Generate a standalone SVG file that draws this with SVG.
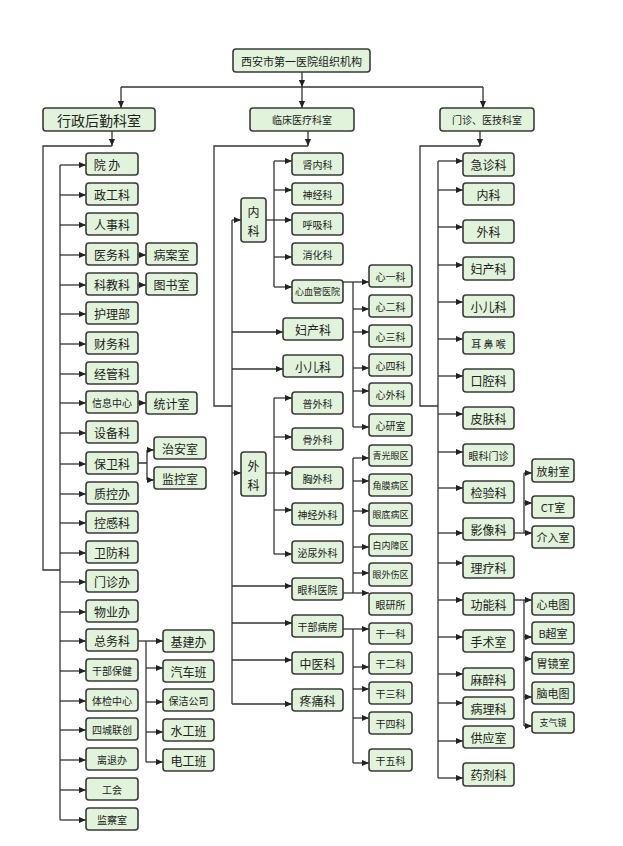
<svg xmlns="http://www.w3.org/2000/svg" width="623" height="846" viewBox="0 0 623 846">
<style>
.n rect{fill:#e1f3da;stroke:#3a3a3a;stroke-width:1.6}
.n text{font-family:"Noto Sans CJK SC","Liberation Sans",sans-serif;font-size:12px;fill:#222;text-anchor:middle;dominant-baseline:central}
.s text{font-size:10px}
.x text{font-size:9px}
#conn path{fill:none;stroke:#333;stroke-width:1.3}
#conn path.a{marker-end:url(#ar)}
</style>
<defs>
<marker id="ar" viewBox="0 0 8 8" refX="8" refY="4" markerWidth="7" markerHeight="7" markerUnits="userSpaceOnUse" orient="auto"><path d="M0,0.5 L8,4 L0,7.5z" fill="#222"/></marker>
</defs>
<rect width="623" height="846" fill="#fff"/>
<g id="conn">
<path class="a" d="M302,72V87"/><path d="M121,87H483"/>
<path class="a" d="M121,87V108"/><path class="a" d="M302,87V108"/><path class="a" d="M483,87V108"/>
<path class="a" d="M112,131V146"/><path class="a" d="M308,131V146"/><path class="a" d="M480,131V146"/>
<path d="M112,146H43V570H60"/><path d="M308,146H214V406H232"/><path d="M480,146H420V406H438"/>
<path d="M60,165V820"/>
<path class="a" d="M60,165H86"/><path class="a" d="M60,195H86"/><path class="a" d="M60,225H86"/><path class="a" d="M60,255H86"/><path class="a" d="M60,285H86"/><path class="a" d="M60,314H86"/><path class="a" d="M60,344H86"/><path class="a" d="M60,374H86"/><path class="a" d="M60,403H86"/><path class="a" d="M60,433H86"/><path class="a" d="M60,464H86"/><path class="a" d="M60,494H86"/><path class="a" d="M60,523H86"/><path class="a" d="M60,553H86"/><path class="a" d="M60,582H86"/><path class="a" d="M60,612H86"/><path class="a" d="M60,641H86"/><path class="a" d="M60,671H86"/><path class="a" d="M60,701H86"/><path class="a" d="M60,730H86"/><path class="a" d="M60,760H86"/><path class="a" d="M60,790H86"/><path class="a" d="M60,820H86"/>
<path class="a" d="M138,255H146"/><path class="a" d="M138,285H146"/><path class="a" d="M138,403H146"/>
<path d="M138,463H147M147,450V480"/><path class="a" d="M147,450H154"/><path class="a" d="M147,480H154"/>
<path class="a" d="M138,641H163"/><path d="M146,641V762"/><path class="a" d="M146,668H163"/><path class="a" d="M146,702H163"/><path class="a" d="M146,732H163"/><path class="a" d="M146,762H163"/>
<path d="M232,220V704"/>
<path class="a" d="M232,220H241"/><path class="a" d="M232,332H283"/><path class="a" d="M232,369H283"/><path class="a" d="M232,473H241"/><path class="a" d="M232,586H292"/><path class="a" d="M232,623H292"/><path class="a" d="M232,660H292"/><path class="a" d="M232,704H292"/>
<path class="a" d="M266,220H292"/><path d="M274,161V287"/><path class="a" d="M274,161H292"/><path class="a" d="M274,190H292"/><path class="a" d="M274,257H292"/><path class="a" d="M274,287H292"/>
<path class="a" d="M343,282H369"/><path d="M353,282V427"/><path class="a" d="M353,309H369"/><path class="a" d="M353,332H369"/><path class="a" d="M353,368H369"/><path class="a" d="M353,391H369"/><path class="a" d="M353,427H369"/>
<path class="a" d="M266,473H292"/><path d="M274,398V554"/><path class="a" d="M274,398H292"/><path class="a" d="M274,437H292"/><path class="a" d="M274,510H292"/><path class="a" d="M274,554H292"/>
<path class="a" d="M343,593H369"/><path d="M353,458V593"/><path class="a" d="M353,458H369"/><path class="a" d="M353,481H369"/><path class="a" d="M353,511H369"/><path class="a" d="M353,547H369"/><path class="a" d="M353,573H369"/>
<path class="a" d="M343,629H369"/><path d="M353,629V763"/><path class="a" d="M353,667H369"/><path class="a" d="M353,689H369"/><path class="a" d="M353,718H369"/><path class="a" d="M353,763H369"/>
<path d="M438,161V778"/>
<path class="a" d="M438,161H463"/><path class="a" d="M438,190H463"/><path class="a" d="M438,227H463"/><path class="a" d="M438,265H463"/><path class="a" d="M438,302H463"/><path class="a" d="M438,339H463"/><path class="a" d="M438,376H463"/><path class="a" d="M438,414H463"/><path class="a" d="M438,452H463"/><path class="a" d="M438,488H463"/><path class="a" d="M438,533H463"/><path class="a" d="M438,563H463"/><path class="a" d="M438,600H463"/><path class="a" d="M438,637H463"/><path class="a" d="M438,674H463"/><path class="a" d="M438,703H463"/><path class="a" d="M438,741H463"/><path class="a" d="M438,778H463"/>
<path class="a" d="M514,533H532"/><path d="M524,473V533"/><path class="a" d="M524,473H532"/><path class="a" d="M524,503H532"/>
<path class="a" d="M514,600H532"/><path d="M524,600V726"/><path class="a" d="M524,637H532"/><path class="a" d="M524,659H532"/><path class="a" d="M524,697H532"/><path class="a" d="M524,726H532"/>
</g>
<g id="root" class="n"><rect x="233" y="49" width="137" height="23" rx="3"/><text x="301.5" y="60.5" style="font-size:11px">西安市第一医院组织机构</text></g>
<g id="xz" class="n"><rect x="43" y="108" width="112" height="23" rx="3"/><text x="99" y="119.5" style="font-size:14px">行政后勤科室</text></g>
<g id="lc" class="n"><rect x="250" y="108" width="104" height="23" rx="3"/><text x="302" y="119.5" style="font-size:10px">临床医疗科室</text></g>
<g id="mz" class="n"><rect x="440" y="108" width="94" height="23" rx="3"/><text x="487" y="119.5" style="font-size:10px">门诊、医技科室</text></g>

<g id="l1" class="n"><rect x="86" y="153" width="52" height="22" rx="3"/><text x="107" y="164">院 办</text></g>
<g id="l2" class="n"><rect x="86" y="183" width="52" height="22" rx="3"/><text x="112" y="194">政工科</text></g>
<g id="l3" class="n"><rect x="86" y="213" width="52" height="22" rx="3"/><text x="112" y="224">人事科</text></g>
<g id="l4" class="n"><rect x="86" y="243" width="52" height="22" rx="3"/><text x="112" y="254">医务科</text></g>
<g id="l5" class="n"><rect x="86" y="273" width="52" height="22" rx="3"/><text x="112" y="284">科教科</text></g>
<g id="l6" class="n"><rect x="86" y="302" width="52" height="22" rx="3"/><text x="112" y="313">护理部</text></g>
<g id="l7" class="n"><rect x="86" y="332" width="52" height="22" rx="3"/><text x="112" y="343">财务科</text></g>
<g id="l8" class="n"><rect x="86" y="362" width="52" height="22" rx="3"/><text x="112" y="373">经管科</text></g>
<g id="l9" class="n s"><rect x="86" y="391" width="52" height="22" rx="3"/><text x="112" y="402">信息中心</text></g>
<g id="l10" class="n"><rect x="86" y="421" width="52" height="22" rx="3"/><text x="112" y="432">设备科</text></g>
<g id="l11" class="n"><rect x="86" y="452" width="52" height="22" rx="3"/><text x="112" y="463">保卫科</text></g>
<g id="l12" class="n"><rect x="86" y="482" width="52" height="22" rx="3"/><text x="112" y="493">质控办</text></g>
<g id="l13" class="n"><rect x="86" y="511" width="52" height="22" rx="3"/><text x="112" y="522">控感科</text></g>
<g id="l14" class="n"><rect x="86" y="541" width="52" height="22" rx="3"/><text x="112" y="552">卫防科</text></g>
<g id="l15" class="n"><rect x="86" y="570" width="52" height="22" rx="3"/><text x="112" y="581">门诊办</text></g>
<g id="l16" class="n"><rect x="86" y="600" width="52" height="22" rx="3"/><text x="112" y="611">物业办</text></g>
<g id="l17" class="n"><rect x="86" y="629" width="52" height="22" rx="3"/><text x="112" y="640">总务科</text></g>
<g id="l18" class="n s"><rect x="86" y="659" width="52" height="22" rx="3"/><text x="112" y="670">干部保健</text></g>
<g id="l19" class="n s"><rect x="86" y="689" width="52" height="22" rx="3"/><text x="112" y="700">体检中心</text></g>
<g id="l20" class="n s"><rect x="86" y="718" width="52" height="22" rx="3"/><text x="112" y="729">四城联创</text></g>
<g id="l21" class="n s"><rect x="86" y="748" width="52" height="22" rx="3"/><text x="112" y="759">离退办</text></g>
<g id="l22" class="n s"><rect x="86" y="778" width="52" height="22" rx="3"/><text x="112" y="789">工会</text></g>
<g id="l23" class="n s"><rect x="86" y="808" width="52" height="22" rx="3"/><text x="112" y="819">监察室</text></g>
<g id="l4a" class="n"><rect x="146" y="243" width="51" height="22" rx="3"/><text x="171.5" y="254">病案室</text></g>
<g id="l5a" class="n"><rect x="146" y="273" width="51" height="22" rx="3"/><text x="171.5" y="284">图书室</text></g>
<g id="l9a" class="n"><rect x="146" y="392" width="51" height="22" rx="3"/><text x="171.5" y="403">统计室</text></g>
<g id="l11a" class="n"><rect x="154" y="437" width="52" height="22" rx="3"/><text x="180" y="448">治安室</text></g>
<g id="l11b" class="n"><rect x="154" y="467" width="52" height="22" rx="3"/><text x="180" y="478">监控室</text></g>
<g id="l17a" class="n"><rect x="163" y="630" width="51" height="22" rx="3"/><text x="188.5" y="641">基建办</text></g>
<g id="l17b" class="n"><rect x="163" y="660" width="51" height="22" rx="3"/><text x="188.5" y="671">汽车班</text></g>
<g id="l17c" class="n s"><rect x="163" y="689" width="51" height="22" rx="3"/><text x="188.5" y="700">保洁公司</text></g>
<g id="l17d" class="n"><rect x="163" y="719" width="51" height="22" rx="3"/><text x="188.5" y="730">水工班</text></g>
<g id="l17e" class="n"><rect x="163" y="749" width="51" height="22" rx="3"/><text x="188.5" y="760">电工班</text></g>

<g id="m1" class="n"><rect x="241" y="198" width="25" height="44" rx="3"/><text x="253.5" y="211">内</text><text x="253.5" y="230">科</text></g>
<g id="m1a" class="n s"><rect x="292" y="153" width="51" height="22" rx="3"/><text x="317.5" y="164">肾内科</text></g>
<g id="m1b" class="n s"><rect x="292" y="183" width="51" height="22" rx="3"/><text x="317.5" y="194">神经科</text></g>
<g id="m1c" class="n s"><rect x="292" y="213" width="51" height="22" rx="3"/><text x="317.5" y="224">呼吸科</text></g>
<g id="m1d" class="n s"><rect x="292" y="243" width="51" height="22" rx="3"/><text x="317.5" y="254">消化科</text></g>
<g id="m1e" class="n x"><rect x="292" y="280" width="51" height="23" rx="3"/><text x="317.5" y="291.5">心血管医院</text></g>
<g id="m2" class="n"><rect x="283" y="318" width="60" height="22" rx="3"/><text x="313" y="329">妇产科</text></g>
<g id="m3" class="n"><rect x="283" y="355" width="60" height="22" rx="3"/><text x="313" y="366">小儿科</text></g>
<g id="m4" class="n"><rect x="241" y="452" width="25" height="44" rx="3"/><text x="253.5" y="465">外</text><text x="253.5" y="484">科</text></g>
<g id="m4a" class="n s"><rect x="292" y="392" width="51" height="22" rx="3"/><text x="317.5" y="403">普外科</text></g>
<g id="m4b" class="n s"><rect x="292" y="428" width="51" height="22" rx="3"/><text x="317.5" y="439">骨外科</text></g>
<g id="m4c" class="n s"><rect x="292" y="467" width="51" height="22" rx="3"/><text x="317.5" y="478">胸外科</text></g>
<g id="m4d" class="n s"><rect x="292" y="503" width="51" height="22" rx="3"/><text x="317.5" y="514">神经外科</text></g>
<g id="m4e" class="n s"><rect x="292" y="541" width="51" height="22" rx="3"/><text x="317.5" y="552">泌尿外科</text></g>
<g id="m5" class="n s"><rect x="292" y="578" width="51" height="22" rx="3"/><text x="317.5" y="589">眼科医院</text></g>
<g id="m6" class="n s"><rect x="292" y="615" width="51" height="22" rx="3"/><text x="317.5" y="626">干部病房</text></g>
<g id="m7" class="n"><rect x="292" y="652" width="51" height="22" rx="3"/><text x="317.5" y="663">中医科</text></g>
<g id="m8" class="n"><rect x="292" y="689" width="51" height="22" rx="3"/><text x="317.5" y="700">疼痛科</text></g>
<g id="x1" class="n s"><rect x="369" y="265" width="43" height="22" rx="3"/><text x="390.5" y="276">心一科</text></g>
<g id="x2" class="n s"><rect x="369" y="295" width="43" height="22" rx="3"/><text x="390.5" y="306">心二科</text></g>
<g id="x3" class="n s"><rect x="369" y="325" width="43" height="22" rx="3"/><text x="390.5" y="336">心三科</text></g>
<g id="x4" class="n s"><rect x="369" y="354" width="43" height="22" rx="3"/><text x="390.5" y="365">心四科</text></g>
<g id="x5" class="n s"><rect x="369" y="383" width="43" height="23" rx="3"/><text x="390.5" y="394.5">心外科</text></g>
<g id="x6" class="n s"><rect x="369" y="414" width="43" height="22" rx="3"/><text x="390.5" y="425">心研室</text></g>
<g id="y1" class="n x"><rect x="369" y="445" width="43" height="21" rx="3"/><text x="390.5" y="455.5">青光眼区</text></g>
<g id="y2" class="n x"><rect x="369" y="474" width="43" height="22" rx="3"/><text x="390.5" y="485">角膜病区</text></g>
<g id="y3" class="n x"><rect x="369" y="503" width="43" height="23" rx="3"/><text x="390.5" y="514.5">眼底病区</text></g>
<g id="y4" class="n x"><rect x="369" y="534" width="43" height="22" rx="3"/><text x="390.5" y="545">白内障区</text></g>
<g id="y5" class="n x"><rect x="369" y="563" width="43" height="23" rx="3"/><text x="390.5" y="574.5">眼外伤区</text></g>
<g id="y6" class="n s"><rect x="369" y="593" width="43" height="22" rx="3"/><text x="390.5" y="604">眼研所</text></g>
<g id="g1" class="n s"><rect x="369" y="623" width="43" height="21" rx="3"/><text x="390.5" y="633.5">干一科</text></g>
<g id="g2" class="n s"><rect x="369" y="652" width="43" height="22" rx="3"/><text x="390.5" y="663">干二科</text></g>
<g id="g3" class="n s"><rect x="369" y="682" width="43" height="22" rx="3"/><text x="390.5" y="693">干三科</text></g>
<g id="g4" class="n s"><rect x="369" y="712" width="43" height="22" rx="3"/><text x="390.5" y="723">干四科</text></g>
<g id="g5" class="n s"><rect x="369" y="749" width="43" height="22" rx="3"/><text x="390.5" y="760">干五科</text></g>

<g id="r1" class="n"><rect x="463" y="153" width="51" height="23" rx="3"/><text x="488.5" y="164.5">急诊科</text></g>
<g id="r2" class="n"><rect x="463" y="183" width="51" height="22" rx="3"/><text x="488.5" y="194">内科</text></g>
<g id="r3" class="n"><rect x="463" y="220" width="51" height="23" rx="3"/><text x="488.5" y="231.5">外科</text></g>
<g id="r4" class="n"><rect x="463" y="257" width="51" height="23" rx="3"/><text x="488.5" y="268.5">妇产科</text></g>
<g id="r5" class="n"><rect x="463" y="295" width="51" height="22" rx="3"/><text x="488.5" y="306">小儿科</text></g>
<g id="r6" class="n s"><rect x="463" y="332" width="51" height="22" rx="3"/><text x="488.5" y="343">耳 鼻 喉</text></g>
<g id="r7" class="n"><rect x="463" y="369" width="51" height="23" rx="3"/><text x="488.5" y="380.5">口腔科</text></g>
<g id="r8" class="n"><rect x="463" y="407" width="51" height="22" rx="3"/><text x="488.5" y="418">皮肤科</text></g>
<g id="r9" class="n s"><rect x="463" y="444" width="51" height="22" rx="3"/><text x="488.5" y="455">眼科门诊</text></g>
<g id="r10" class="n"><rect x="463" y="481" width="51" height="22" rx="3"/><text x="488.5" y="492">检验科</text></g>
<g id="r11" class="n"><rect x="463" y="518" width="51" height="22" rx="3"/><text x="488.5" y="529">影像科</text></g>
<g id="r12" class="n"><rect x="463" y="556" width="51" height="22" rx="3"/><text x="488.5" y="567">理疗科</text></g>
<g id="r13" class="n"><rect x="463" y="593" width="51" height="22" rx="3"/><text x="488.5" y="604">功能科</text></g>
<g id="r14" class="n"><rect x="463" y="630" width="51" height="22" rx="3"/><text x="488.5" y="641">手术室</text></g>
<g id="r15" class="n"><rect x="463" y="668" width="51" height="22" rx="3"/><text x="488.5" y="679">麻醉科</text></g>
<g id="r16" class="n"><rect x="463" y="697" width="51" height="22" rx="3"/><text x="488.5" y="708">病理科</text></g>
<g id="r17" class="n"><rect x="463" y="726" width="51" height="22" rx="3"/><text x="488.5" y="737">供应室</text></g>
<g id="r18" class="n"><rect x="463" y="763" width="51" height="23" rx="3"/><text x="488.5" y="774.5">药剂科</text></g>
<g id="r11a" class="n"><rect x="532" y="459" width="42" height="23" rx="3"/><text x="553" y="470.5" style="font-size:11px">放射室</text></g>
<g id="r11b" class="n"><rect x="532" y="496" width="42" height="22" rx="3"/><text x="553" y="507" style="font-size:11px">CT室</text></g>
<g id="r11c" class="n"><rect x="532" y="526" width="42" height="22" rx="3"/><text x="553" y="537" style="font-size:11px">介入室</text></g>
<g id="r13a" class="n"><rect x="532" y="593" width="42" height="22" rx="3"/><text x="553" y="604" style="font-size:11px">心电图</text></g>
<g id="r13b" class="n"><rect x="532" y="622" width="42" height="22" rx="3"/><text x="553" y="633" style="font-size:11px">B超室</text></g>
<g id="r13c" class="n"><rect x="532" y="652" width="42" height="22" rx="3"/><text x="553" y="663" style="font-size:11px">胃镜室</text></g>
<g id="r13d" class="n"><rect x="532" y="682" width="42" height="22" rx="3"/><text x="553" y="693" style="font-size:11px">脑电图</text></g>
<g id="r13e" class="n x"><rect x="532" y="712" width="42" height="21" rx="3"/><text x="553" y="722.5">支气镜</text></g>
</svg>
